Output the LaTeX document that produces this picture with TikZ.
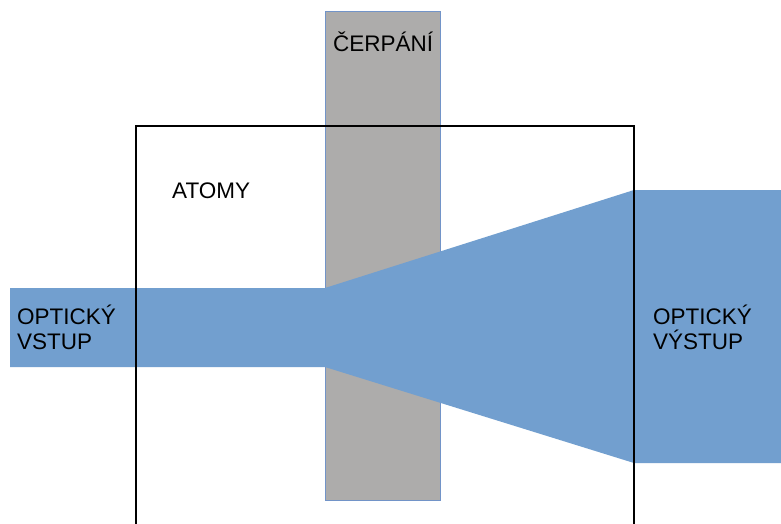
\documentclass[tikz,border=0pt]{standalone}
\usepackage{fontspec}
\setmainfont{Liberation Sans}
\definecolor{beam}{HTML}{729FCF}
\definecolor{pump}{HTML}{ADACAB}
\definecolor{pumpedge}{HTML}{7294C8}
\tikzset{
  lbl/.style={anchor=base west, inner sep=0pt, font=\fontsize{22.5}{26}\selectfont, text=black},
  beamfill/.style={fill=beam, draw=none},
}
\begin{document}
\begin{tikzpicture}[x=1pt,y=-1pt]
\useasboundingbox[fill=white] (0,0) rectangle (781,523);
% pump bar
\path[fill=pump, draw=pumpedge, line width=1pt] (325,11) rectangle (440,500);
% beam
\path[beamfill] (10,288) -- (325,288) -- (634,190) -- (781,190) -- (781,463) -- (634,463) -- (325,367) -- (10,367) -- cycle;
% atoms box
\draw[line width=2pt, line cap=rect] (136,530) -- (136,126) -- (634,126) -- (634,530);
% labels
\node[lbl] (cerp) at (333,51) {ČERPÁNÍ};
\node[lbl] (atomy) at (172,198) {ATOMY};
\node[lbl] (in1) at (17,324) {OPTICKÝ};
\node[lbl] (in2) at (17,349) {VSTUP};
\node[lbl] (out1) at (653,324) {OPTICKÝ};
\node[lbl] (out2) at (653,349) {VÝSTUP};
\end{tikzpicture}
\end{document}
